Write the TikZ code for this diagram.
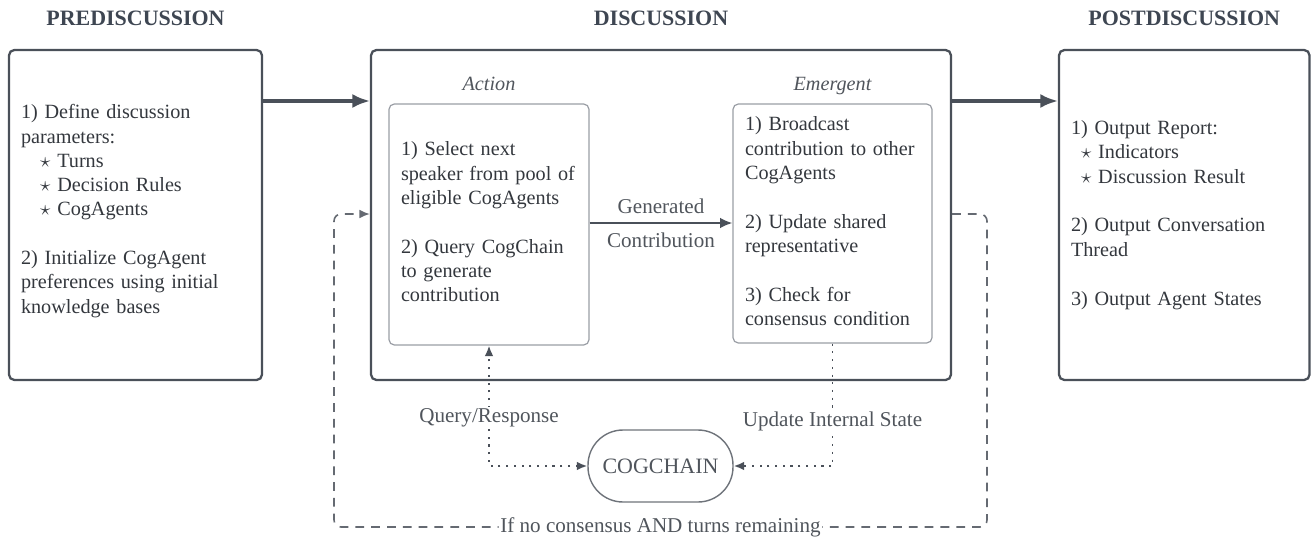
\documentclass[tikz,border=0pt]{standalone}
\usepackage{fontspec}
\IfFontExistsTF{LiberationSerif-Regular.ttf}
  {\setmainfont{LiberationSerif}[Extension=.ttf, UprightFont=*-Regular, BoldFont=*-Bold, ItalicFont=*-Italic, BoldItalicFont=*-BoldItalic]}
  {\setmainfont{Liberation Serif}}
\usepackage{xcolor}
\usepackage{tikz}
\usetikzlibrary{positioning,arrows.meta}
\definecolor{edgegray}{HTML}{4A5059}
\definecolor{innergray}{HTML}{9A9EA5}
\definecolor{inkgray}{HTML}{33373D}
\definecolor{headgray}{HTML}{3E4652}
\definecolor{labelgray}{HTML}{50555C}

\begin{document}
\begin{tikzpicture}[
  x=0.02cm, y=-0.02cm,
  every node/.style={text=inkgray, font=\fontsize{11.5}{13.8}\selectfont},
  phasebox/.style={
    draw=edgegray,
    line width=1.3pt,
    rounded corners=3pt,
    minimum height=6.6cm,
    align=left,
    inner sep=0pt
  },
  innerbox/.style={
    draw=innergray,
    line width=0.7pt,
    rounded corners=3pt,
    align=left,
    inner sep=0pt
  },
  header/.style={font=\fontsize{12.5}{14}\selectfont\bfseries, text=headgray, inner sep=0pt},
  sublabel/.style={font=\fontsize{11.5}{13.8}\selectfont\itshape, text=labelgray, inner sep=0pt, text depth=0pt},
  flowlabel/.style={font=\fontsize{12}{14}\selectfont, text=labelgray, fill=white, inner sep=1pt},
  bigarrow/.style={draw=edgegray, line width=1.8pt, -{Latex[length=10pt,width=8pt]}},
  midarrow/.style={draw=edgegray, line width=1pt, -{Latex[length=7pt,width=6pt]}},
  dotlink/.style={draw=edgegray, line width=1.1pt, dash pattern=on 1.2pt off 3.2pt},
  loopline/.style={draw=edgegray!85, line width=0.9pt, dash pattern=on 5pt off 4pt, rounded corners=4pt}
]
\useasboundingbox (0,0) rectangle (1311,537);

% phases
\node[phasebox, minimum width=5.06cm, text width=4.58cm] (pre) at (135.5,215)
{1) Define discussion\\
parameters:\\
\hspace*{0.95em}$\star$ Turns\\
\hspace*{0.95em}$\star$ Decision Rules\\
\hspace*{0.95em}$\star$ CogAgents\\[14pt]
2) Initialize CogAgent\\
preferences using initial\\
knowledge bases\par\kern4.5pt};

\node[phasebox, minimum width=11.6cm] (disc) at (661,215) {};

\node[phasebox, minimum width=5.01cm, text width=4.53cm] (post) at (1184.25,215)
{1) Output Report:\\
\hspace*{0.5em}$\star$ Indicators\\
\hspace*{0.5em}$\star$ Discussion Result\\[14pt]
2) Output Conversation\\
Thread\\[14pt]
3) Output Agent States};

\node[header, above=0.46cm of pre] (prehead) {PREDISCUSSION};
\node[header, above=0.46cm of disc] (dischead) {DISCUSSION};
\node[header, above=0.46cm of post] (posthead) {POSTDISCUSSION};

% inside discussion
\node[innerbox, minimum width=4cm, minimum height=4.82cm, text width=3.52cm] (action) at (489,224.5)
{1) Select next\\
speaker from pool of\\
eligible CogAgents\\[14pt]
2) Query CogChain\\
to generate\\
contribution\par\kern3pt};

\node[innerbox, minimum width=3.98cm, minimum height=4.78cm, text width=3.5cm] (emergent) at (832.5,223.5)
{1) Broadcast\\
contribution to other\\
CogAgents\\[14pt]
2) Update shared\\
representative\\[14pt]
3) Check for\\
consensus condition\par\kern2.5pt};

\node[sublabel, above=0.25cm of action] (actionlbl) {Action};
\node[sublabel, above=0.25cm of emergent] (emergentlbl) {Emergent};

\node[draw=edgegray!80, line width=0.8pt, rounded corners=0.7cm, minimum width=2.9cm, minimum height=1.44cm,
  font=\fontsize{12.5}{14}\selectfont, text=labelgray] (cogchain) at (660.5,466) {COGCHAIN};

\coordinate (mainrow) at (0,101);
\coordinate (genrow) at (0,223);
\coordinate (looprow) at (0,214);
\coordinate (loopR) at (987,527);
\coordinate (loopL) at (334,527);

% connectors
\draw[bigarrow] (pre.east |- mainrow) -- (disc.west |- mainrow);
\draw[bigarrow] (disc.east |- mainrow) -- (post.west |- mainrow);

\draw[midarrow] (action.east |- genrow) -- node[above=4pt, flowlabel, fill=none] {Generated}
  node[below=4pt, flowlabel, fill=none] {Contribution} (emergent.west |- genrow);

\draw[dotlink, {Latex[length=6pt,width=5pt]}-{Latex[length=6pt,width=5pt]}] (cogchain.west) -| node[flowlabel, pos=0.7] {Query/Response} (action.south);
\draw[dotlink, -{Latex[length=6pt,width=5pt]}] (emergent.south) |- node[flowlabel, pos=0.317] {Update Internal State} (cogchain.east);

\draw[loopline, -{Latex[length=6pt,width=5pt]}] (disc.east |- looprow) -| (loopR)
  -- node[flowlabel] {If no consensus AND turns remaining} (loopL) |- (disc.west |- looprow);

\end{tikzpicture}
\end{document}
